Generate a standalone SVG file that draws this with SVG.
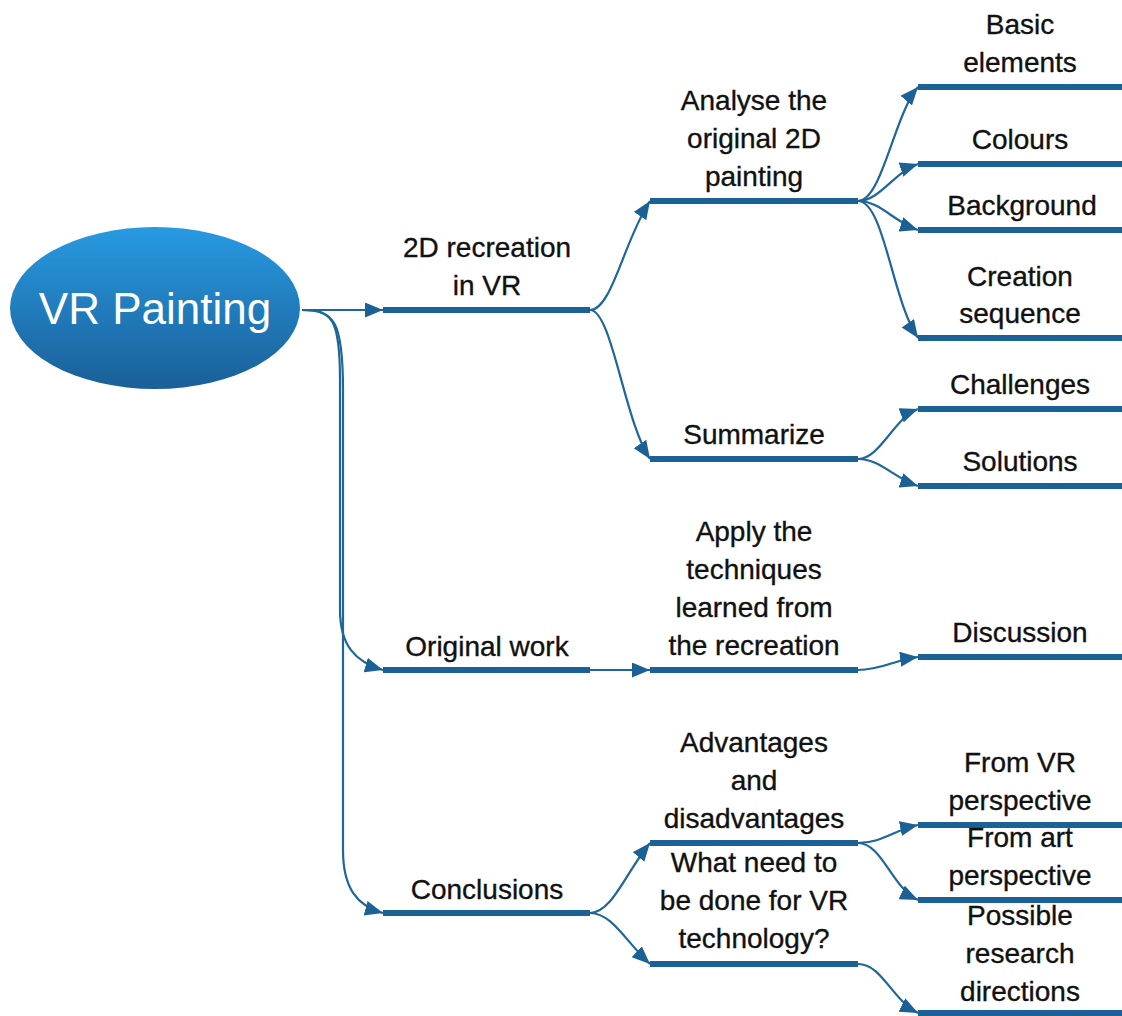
<svg xmlns="http://www.w3.org/2000/svg" width="1122" height="1016" viewBox="0 0 1122 1016">
  <style>
    .bar { stroke: #1b6196; stroke-width: 6; fill: none; }
    .lbl { font-family: "Liberation Sans", Arial, sans-serif; font-size: 28px; fill: #111; stroke: #111; stroke-width: 0.35; text-anchor: middle; }
    .edge { stroke: #1f6699; stroke-width: 2.2; fill: none; marker-end: url(#arrow); }
  </style>
  <defs>
    <linearGradient id="rootFill" x1="0" y1="0" x2="0" y2="1">
      <stop offset="0" stop-color="#289ae2"/>
      <stop offset="1" stop-color="#1a5f97"/>
    </linearGradient>
    <marker id="arrow" markerUnits="userSpaceOnUse" markerWidth="20" markerHeight="16" refX="18" refY="7.5" orient="auto">
      <path d="M0,0 L18,7.5 L0,15 Z" fill="#1b6196"/>
    </marker>
  </defs>

  <!-- connectors -->
  <g id="connectors">
    <path class="edge" d="M302,310 L383,310"/>
    <path class="edge" d="M302,310 C332,310 340,318 340,380 L340,610 C340,645 355,662 383,670"/>
    <path class="edge" d="M302,310 C334,310 343,320 343,390 L343,850 C343,888 357,906 383,913"/>

    <path class="edge" d="M590,310 C612,310 624,240 650,201"/>
    <path class="edge" d="M590,310 C612,310 624,420 650,459"/>
    <path class="edge" d="M590,670 L650,670"/>
    <path class="edge" d="M590,913 C612,913 626,872 650,843"/>
    <path class="edge" d="M590,913 C612,913 626,942 650,964"/>

    <path class="edge" d="M858,201 C882,201 894,115 918,87"/>
    <path class="edge" d="M858,201 C880,201 894,172 918,164"/>
    <path class="edge" d="M858,201 C880,201 894,222 918,230"/>
    <path class="edge" d="M858,201 C884,201 892,300 918,338"/>

    <path class="edge" d="M858,459 C880,459 894,418 918,409"/>
    <path class="edge" d="M858,459 C880,459 894,478 918,486"/>

    <path class="edge" d="M858,670 C882,670 894,660 918,657"/>

    <path class="edge" d="M858,843 C882,843 894,830 918,825"/>
    <path class="edge" d="M858,843 C882,843 892,888 918,900"/>
    <path class="edge" d="M858,964 C882,964 892,1000 918,1013"/>
  </g>

  <!-- root -->
  <g id="root">
    <ellipse cx="155" cy="308" rx="145" ry="81" fill="url(#rootFill)"/>
    <text x="155" y="324" font-family="Liberation Sans, Arial, sans-serif" font-size="44" fill="#fff" text-anchor="middle">VR Painting</text>
  </g>

  <!-- level 1 -->
  <g id="recreation">
    <line class="bar" x1="383" y1="310" x2="590" y2="310"/>
    <text class="lbl" x="487" y="257">2D recreation</text>
    <text class="lbl" x="487" y="295">in VR</text>
  </g>
  <g id="original-work">
    <line class="bar" x1="383" y1="670" x2="590" y2="670"/>
    <text class="lbl" x="487" y="656">Original work</text>
  </g>
  <g id="conclusions">
    <line class="bar" x1="383" y1="913" x2="590" y2="913"/>
    <text class="lbl" x="487" y="899">Conclusions</text>
  </g>

  <!-- level 2 -->
  <g id="analyse">
    <line class="bar" x1="650" y1="201" x2="858" y2="201"/>
    <text class="lbl" x="754" y="110">Analyse the</text>
    <text class="lbl" x="754" y="148">original 2D</text>
    <text class="lbl" x="754" y="186">painting</text>
  </g>
  <g id="summarize">
    <line class="bar" x1="650" y1="459" x2="858" y2="459"/>
    <text class="lbl" x="754" y="444">Summarize</text>
  </g>
  <g id="apply">
    <line class="bar" x1="650" y1="670" x2="858" y2="670"/>
    <text class="lbl" x="754" y="541">Apply the</text>
    <text class="lbl" x="754" y="579">techniques</text>
    <text class="lbl" x="754" y="617">learned from</text>
    <text class="lbl" x="754" y="655">the recreation</text>
  </g>
  <g id="advantages">
    <line class="bar" x1="650" y1="843" x2="858" y2="843"/>
    <text class="lbl" x="754" y="752">Advantages</text>
    <text class="lbl" x="754" y="790">and</text>
    <text class="lbl" x="754" y="828">disadvantages</text>
  </g>
  <g id="what-need">
    <line class="bar" x1="650" y1="964" x2="858" y2="964"/>
    <text class="lbl" x="754" y="872">What need to</text>
    <text class="lbl" x="754" y="910">be done for VR</text>
    <text class="lbl" x="754" y="948">technology?</text>
  </g>

  <!-- level 3 -->
  <g id="basic-elements">
    <line class="bar" x1="918" y1="87" x2="1122" y2="87"/>
    <text class="lbl" x="1020" y="34">Basic</text>
    <text class="lbl" x="1020" y="72">elements</text>
  </g>
  <g id="colours">
    <line class="bar" x1="918" y1="164" x2="1122" y2="164"/>
    <text class="lbl" x="1020" y="149">Colours</text>
  </g>
  <g id="background">
    <line class="bar" x1="918" y1="230" x2="1122" y2="230"/>
    <text class="lbl" x="1022" y="215">Background</text>
  </g>
  <g id="creation-sequence">
    <line class="bar" x1="918" y1="338" x2="1122" y2="338"/>
    <text class="lbl" x="1020" y="286">Creation</text>
    <text class="lbl" x="1020" y="323">sequence</text>
  </g>
  <g id="challenges">
    <line class="bar" x1="918" y1="409" x2="1122" y2="409"/>
    <text class="lbl" x="1020" y="394">Challenges</text>
  </g>
  <g id="solutions">
    <line class="bar" x1="918" y1="486" x2="1122" y2="486"/>
    <text class="lbl" x="1020" y="471">Solutions</text>
  </g>
  <g id="discussion">
    <line class="bar" x1="918" y1="657" x2="1122" y2="657"/>
    <text class="lbl" x="1020" y="642">Discussion</text>
  </g>
  <g id="from-vr">
    <line class="bar" x1="918" y1="825" x2="1122" y2="825"/>
    <text class="lbl" x="1020" y="772">From VR</text>
    <text class="lbl" x="1020" y="810">perspective</text>
  </g>
  <g id="from-art">
    <line class="bar" x1="918" y1="900" x2="1122" y2="900"/>
    <text class="lbl" x="1020" y="847">From art</text>
    <text class="lbl" x="1020" y="885">perspective</text>
  </g>
  <g id="possible-research">
    <line class="bar" x1="918" y1="1013" x2="1122" y2="1013"/>
    <text class="lbl" x="1020" y="925">Possible</text>
    <text class="lbl" x="1020" y="963">research</text>
    <text class="lbl" x="1020" y="1001">directions</text>
  </g>
</svg>
